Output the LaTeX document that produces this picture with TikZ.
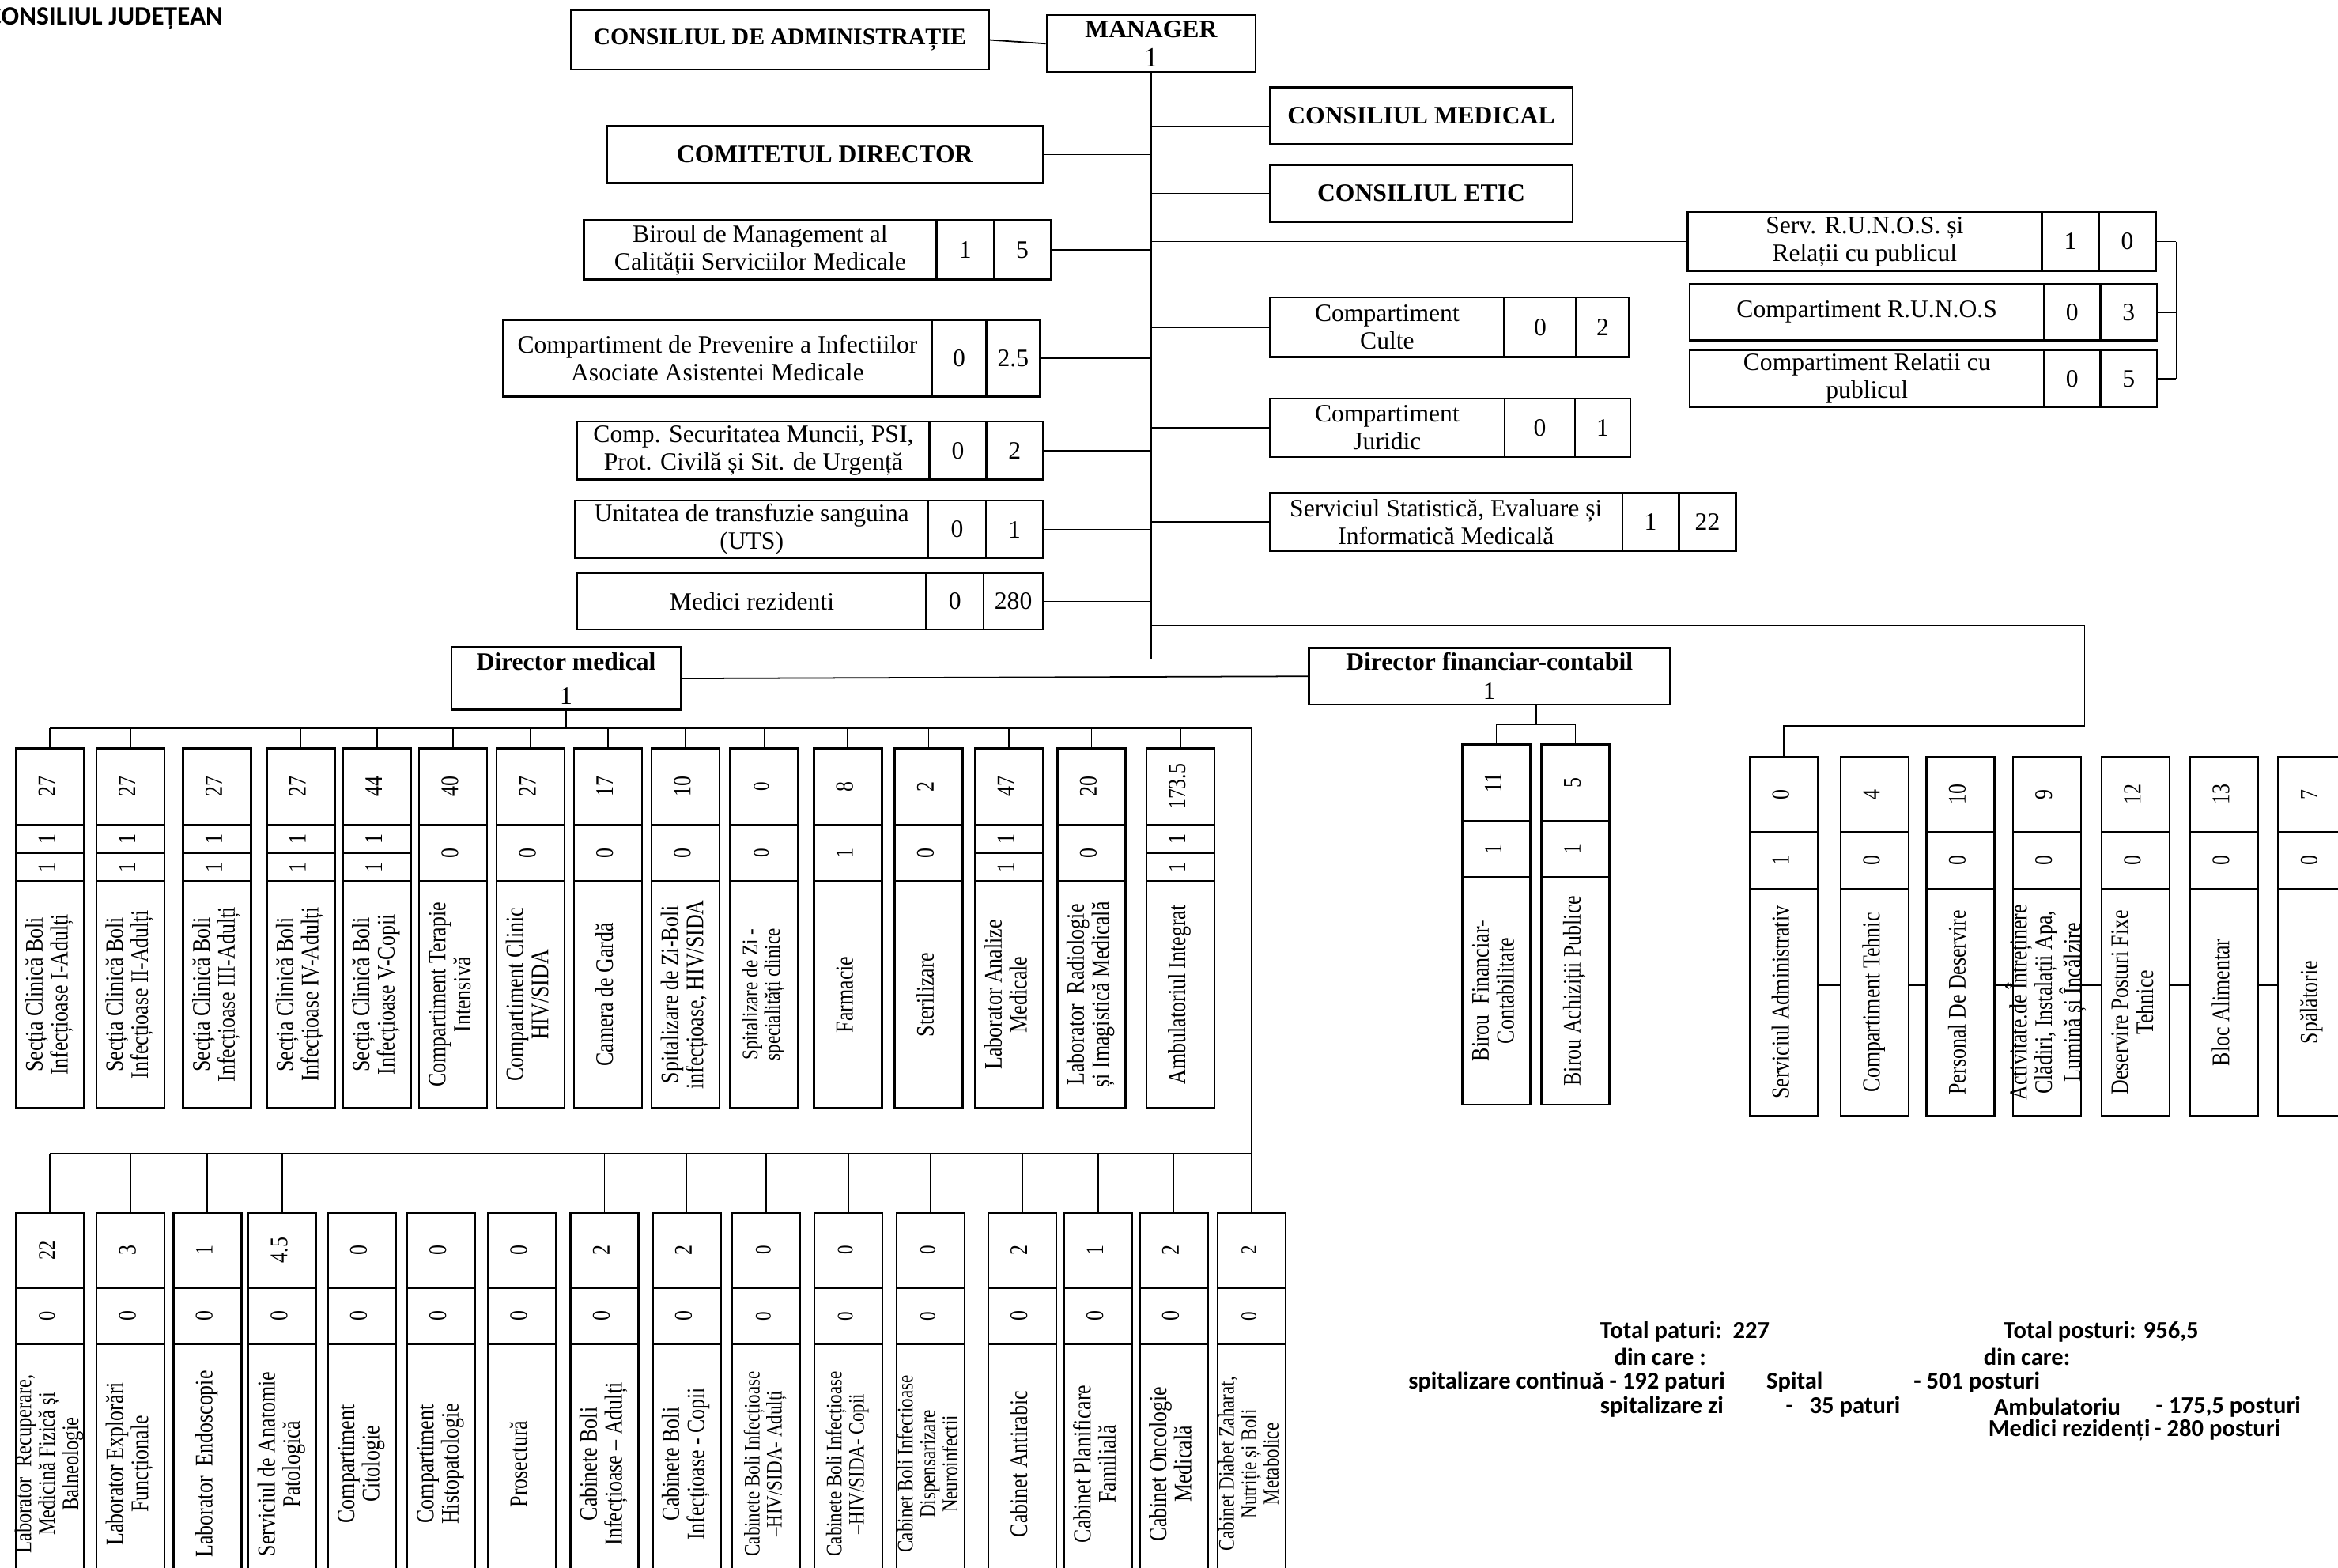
\documentclass[tikz,border=0pt]{standalone}
\usepackage{fontspec}
\setmainfont{Liberation Serif}
\newfontfamily\vserif[FakeStretch=0.82]{Liberation Serif}
\newfontfamily\calib{Carlito}
\usepackage{graphicx}
% rotated text for the tall boxes
\newcommand{\vtxt}[2][9]{\makebox[0pt]{\rotatebox{90}{\vserif\fontsize{#1}{#1}\selectfont\begin{tabular}{@{}c@{}}#2\end{tabular}}}}
\tikzset{
  corners/.style n args={4}{minimum width={(#3-#1)*0.1886mm}, minimum height={(#4-#2)*0.1886mm},
    at={({(#1+#3)/2},{(#2+#4)/2})}},
  cell/.style={draw, line width=0.7pt, inner sep=0pt, align=center, font=\fontsize{9}{10}\selectfont},
  headcell/.style={cell, font=\bfseries\fontsize{9}{10.5}\selectfont},
  vcell/.style={draw, line width=0.7pt, inner sep=0pt},
  link/.style={line width=0.5pt},
  note/.style={anchor=west, inner sep=0pt, font=\calib\bfseries\fontsize{8.7}{10}\selectfont},
}
\begin{document}
\begin{tikzpicture}[x=0.01886cm,y=-0.01886cm]
\useasboundingbox (0,0) rectangle (1568,1051.5);
\clip (0,0) rectangle (1568,1051.5);
\node[note, anchor=east, font=\calib\bfseries\fontsize{9.5}{11}\selectfont] (cj) at (150,12.5) {CONSILIUL JUDEȚEAN};

% conducere
\node[headcell, corners={383}{7}{663}{46.6}, font=\bfseries\fontsize{8.5}{10}\selectfont] (cda) {CONSILIUL DE ADMINISTRAȚIE};
\node[headcell, corners={702}{10.2}{842}{48.4}] (mgr) {MANAGER\\{\mdseries\fontsize{10}{10}\selectfont 1}};
\node[headcell, corners={851.7}{58.6}{1054.6}{96.8}] (cmed) {CONSILIUL MEDICAL};
\node[headcell, corners={406.9}{84.5}{699.5}{122.8}] (cdir) {COMITETUL DIRECTOR};
\node[headcell, corners={851.7}{110.5}{1054.6}{148.7}] (cetic) {CONSILIUL ETIC};
\node[headcell, corners={302.7}{434}{456.6}{476}, font=\bfseries\fontsize{9}{12}\selectfont] (dm) {Director medical\\{\mdseries 1}};
\node[headcell, corners={877.8}{434.5}{1119.9}{472.5}] (dfc) {Director financiar-contabil\\{\mdseries 1}};

% birouri cu doua casute
\foreach \n/\xa/\xb/\xc/\xd/\ya/\yb/\txt/\va/\vb in {
  bmc/391.6/628/666.6/704.6/147.8/187.4/{Biroul de Management al\\Calității Serviciilor Medicale}/1/5,
  cpi/337.4/625/661.5/697.5/214.4/266/{Compartiment de Prevenire a Infectiilor\\Asociate Asistentei Medicale}/0/2.5,
  csm/387.2/623.4/661.5/699.5/282.6/321.6/{Comp. Securitatea Muncii, PSI,\\Prot. Civilă și Sit. de Urgență}/0/2,
  uts/385.7/622.5/661.2/699.5/335.6/374.5/{Unitatea de transfuzie sanguina\\(UTS)}/0/1,
  mrz/387.2/621.3/659.7/699.5/384.4/422.1/{Medici rezidenti}/0/280,
  srp/1131.8/1369.3/1407.7/1445.7/142.2/181.8/{Serv. R.U.N.O.S. și\\Relații cu publicul}/1/0,
  cru/1133.3/1370.8/1408.7/1446.6/190.4/228.2/{Compartiment R.U.N.O.S}/0/3,
  crp/1133.3/1370.8/1408.7/1446.6/234.6/273.2/{Compartiment Relatii cu\\publicul}/0/5,
  cul/851.7/1008.9/1057.1/1092.6/199.4/239.4/{Compartiment\\Culte}/0/2,
  jur/851.5/1009.1/1056.4/1093.4/267.2/306.6/{Compartiment\\Juridic}/0/1,
  sse/851.5/1088/1125.9/1164.3/330.5/369.5/{Serviciul Statistică, Evaluare și\\Informatică Medicală}/1/22}
{
  \node[cell, corners={\xa}{\ya}{\xb}{\yb}] (\n) {\txt};
  \node[cell, corners={\xb}{\ya}{\xc}{\yb}] (\n1) {\va};
  \node[cell, corners={\xc}{\ya}{\xd}{\yb}] (\n2) {\vb};
}

\coordinate (tk) at (mgr.south);
\coordinate (tkend) at (772,441.5);
\coordinate (brk) at (1459.5,0);
\coordinate (dbus) at (0,488.2);
\coordinate (cbus) at (0,773.5);
\coordinate (rv) at (839.5,0);
\coordinate (fbus) at (1030.4,485.7);
\coordinate (rbr) at (1398,419.6);
\coordinate (rdn) at (1398,486.7);

% sectii sub directorul medical
\def\bw{45.6}
\def\yA{502} \def\yB{553} \def\yM{572} \def\yC{591} \def\yD{743}
\foreach \i/\xl/\vt/\vm/\two/\sz/\lab in {
  1/10.8/27/1/1/9/{Secția Clinică Boli\\Infecțioase I-Adulți},
  2/64.6/27/1/1/9/{Secția Clinică Boli\\Infecțioase II-Adulți},
  3/122.8/27/1/1/9/{Secția Clinică Boli\\Infecțioase III-Adulți},
  4/178.9/27/1/1/9/{Secția Clinică Boli\\Infecțioase IV-Adulți},
  5/230/44/1/1/9/{Secția Clinică Boli\\Infecțioase V-Copii},
  6/281/40/0/0/9/{Compartiment Terapie\\Intensivă},
  7/333.1/27/0/0/9/{Compartiment Clinic\\HIV/SIDA},
  8/384.9/17/0/0/9/{Camera de Gardă},
  9/437/10/0/0/9/{Spitalizare de Zi-Boli\\infecțioase, HIV/SIDA},
  10/489.7/0/0/0/8/{Spitalizare de Zi -\\specialități clinice},
  11/545.8/8/1/0/9/{Farmacie},
  12/600/2/0/0/9/{Sterilizare},
  13/654/47/1/1/9/{Laborator Analize\\Medicale},
  14/709.2/20/0/0/9/{Laborator\ \ Radiologie\\și Imagistică Medicală},
  15/768.8/173.5/1/1/9/{Ambulatoriul Integrat}}
{
  \node[vcell, corners={\xl}{\yA}{\xl+\bw}{\yB}] (da\i) {\vtxt[\sz]{\vt}};
  \ifnum\two=1
    \node[vcell, corners={\xl}{\yB}{\xl+\bw}{\yM}] (db\i) {\vtxt[\sz]{\vm}};
    \node[vcell, corners={\xl}{\yM}{\xl+\bw}{\yC}] (dc\i) {\vtxt[\sz]{\vm}};
  \else
    \node[vcell, corners={\xl}{\yB}{\xl+\bw}{\yC}] (db\i) {\vtxt[\sz]{\vm}};
  \fi
  \node[vcell, corners={\xl}{\yC}{\xl+\bw}{\yD}] (dl\i) {\vtxt[\sz]{\lab}};
  \draw[link] (da\i.north) -- (da\i.north |- dbus);
}

% laboratoare si cabinete
\def\yE{813.3} \def\yF{863.5} \def\yG{901.5} \def\yH{1062}
\foreach \i/\xl/\vt/\dr/\sz/\lab in {
  1/10.7/22/1/8.5/{Laborator\ \ Recuperare,\\Medicină Fizică și\\Balneologie},
  2/64.8/3/1/9/{Laborator Explorări\\Funcționale},
  3/116.3/1/1/9/{Laborator\ \ Endoscopie},
  4/166.5/4.5/1/9/{Serviciul de Anatomie\\Patologică},
  5/219.8/0/0/9/{Compartiment\\Citologie},
  6/273/0/0/9/{Compartiment\\Histopatologie},
  7/327.2/0/0/9/{Prosectură},
  8/382.6/2/1/9/{Cabinete Boli\\Infecțioase – Adulți},
  9/437.7/2/1/9/{Cabinete Boli\\Infecțioase - Copii},
  10/491/0/1/8/{Cabinete Boli Infecțioase\\–HIV/SIDA- Adulți},
  11/546.1/0/1/8/{Cabinete Boli Infecțioase\\–HIV/SIDA- Copii},
  12/601.3/0/1/8/{Cabinet Boli Infectioase\\Dispensarizare\\Neuroinfectii},
  13/662.7/2/1/9/{Cabinet Antirabic},
  14/713.6/1/1/9/{Cabinet Planificare\\Familială},
  15/764.4/2/1/9/{Cabinet Oncologie\\Medicală},
  16/816.7/2/1/8/{Cabinet Diabet Zaharat,\\Nutriție și Boli\\Metabolice}}
{
  \node[vcell, corners={\xl}{\yE}{\xl+\bw}{\yF}] (ca\i) {\vtxt[\sz]{\vt}};
  \node[vcell, corners={\xl}{\yF}{\xl+\bw}{\yG}] (cb\i) {\vtxt[\sz]{0}};
  \node[vcell, corners={\xl}{\yG}{\xl+\bw}{\yH}] (cl\i) {\vtxt[\sz]{\lab}};
  \ifnum\dr=1 \draw[link] (ca\i.north) -- (ca\i.north |- cbus); \fi
}

% birouri financiare
\foreach \i/\xl/\vt/\lab in {
  1/980.7/11/{Birou\ \ Financiar-\\Contabilitate},
  2/1033.8/5/{Birou Achiziții Publice}}
{
  \node[vcell, corners={\xl}{499.3}{\xl+\bw}{550.3}] (fa\i) {\vtxt{\vt}};
  \node[vcell, corners={\xl}{550.3}{\xl+\bw}{588.3}] (fb\i) {\vtxt{1}};
  \node[vcell, corners={\xl}{588.3}{\xl+\bw}{740.7}] (fl\i) {\vtxt{\lab}};
}

% servicii administrative
\foreach \i/\xl/\vt/\vm/\lab in {
  1/1173.6/0/1/{Serviciul Administrativ},
  2/1234.4/4/0/{Compartiment Tehnic},
  3/1292/10/0/{Personal De Deservire},
  4/1349.9/9/0/{Activitate.de Întreținere\\Clădiri, Instalații Apa,\\Lumină și Încălzire},
  5/1409.4/12/0/{Deservire Posturi Fixe\\Tehnice},
  6/1468.8/13/0/{Bloc Alimentar},
  7/1528/7/0/{Spălătorie}}
{
  \node[vcell, corners={\xl}{507.5}{\xl+\bw}{558}] (aa\i) {\vtxt{\vt}};
  \node[vcell, corners={\xl}{558}{\xl+\bw}{596}] (ab\i) {\vtxt{\vm}};
  \node[vcell, corners={\xl}{596}{\xl+\bw}{748.5}] (al\i) {\vtxt{\lab}};
}
\foreach \i/\j in {1/2,2/3,3/4,4/5,5/6,6/7}
  \draw[link] ([yshift=2.2mm]al\i.east) -- ([yshift=2.2mm]al\j.west);

% legaturi
\draw[link] (cda.east) -- (mgr.west);
\draw[link] (mgr.south) -- (tkend);
\coordinate (cmedin) at ([yshift=-1.3mm]cmed.west);
\draw[link] (cmedin) -- (cmedin -| tk);
\draw[link] (cdir.east) -- (cdir.east -| tk);
\draw[link] (cetic.west) -- (cetic.west -| tk);
\foreach \n in {bmc,cpi,csm,uts,mrz} \draw[link] (\n2.east) -- (\n2.east -| tk);
\foreach \n in {srp,cul,jur,sse} \draw[link] (\n.west) -- (\n.west -| tk);
\foreach \n in {srp,cru,crp} \draw[link] (\n2.east) -- (\n2.east -| brk);
\draw[link] (srp2.east -| brk) -- (crp2.east -| brk);
\draw[link] (tk |- rbr) -- (rbr) -- (rdn) -- (rdn -| aa1.north) -- (aa1.north);
\draw[link] (dm.east) -- (dfc.west);
\draw[link] (dm.south) -- (dm.south |- dbus);
\draw[link] (da1.north |- dbus) -- (rv |- dbus) -- (rv |- cbus) -- (ca1.north |- cbus);
\draw[link] (fbus |- dfc.south) -- (fbus);
\draw[link] (fa1.north) -- (fa1.north |- fbus) -- (fa2.north |- fbus) -- (fa2.north);

% totaluri
\node[note] (tp) at (1072.8,893) {Total paturi:\ \ 227};
\node[note] (tpd) at (1082.2,910) {din care :};
\node[note] (tpc) at (944.2,926.9) {spitalizare continuă - 192 paturi};
\node[note] (tsp) at (1184.3,926.9) {Spital};
\node[note] (tsv) at (1283,926.9) {- 501 posturi};
\node[note] (tpz) at (1072.8,943.4) {spitalizare zi};
\node[note] (tpzv) at (1197.3,943.4) {-\ \ \ 35 paturi};
\node[note] (tq) at (1343.4,893) {Total posturi: 956,5};
\node[note] (tqd) at (1330,910) {din care:};
\node[note] (tam) at (1336.9,943.4) {Ambulatoriu};
\node[note] (tamv) at (1445.5,943.4) {- 175,5 posturi};
\node[note] (tmr) at (1333.2,958.9) {Medici rezidenți};
\node[note] (tmrv) at (1444.3,958.9) {- 280 posturi};
\end{tikzpicture}
\end{document}
